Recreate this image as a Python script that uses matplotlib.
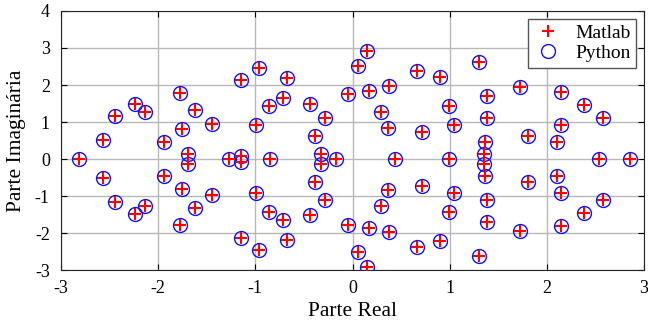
import matplotlib
matplotlib.use("Agg")
import matplotlib.pyplot as plt

# Poles (Matlab and Python results coincide)
matlab_real = [
    -2.81, -1.27, -0.85, -0.17, 0.44, 0.99, 2.54, 2.85,
    -2.57, -2.44, -2.24, -2.13, -1.94, -1.77, -1.75, -1.69, -1.62, -1.45, -1.15,
    -1.15, -0.96, -0.99, -0.86, -0.67, -0.71, -0.44, -0.28, -0.39, -0.32, -0.05,
    0.06, 0.15, 0.17, 0.38, 0.29, 0.36, 0.66, 0.72, 0.90, 0.99, 1.04, 1.30,
    1.38, 1.38, 1.36, 1.35, 1.72, 1.81, 2.14, 2.14, 2.10, 2.38, 2.58,
    -2.57, -2.44, -2.24, -2.13, -1.94, -1.77, -1.75, -1.69, -1.62, -1.45, -1.15,
    -1.15, -0.96, -0.99, -0.86, -0.67, -0.71, -0.44, -0.28, -0.39, -0.32, -0.05,
    0.06, 0.15, 0.17, 0.38, 0.29, 0.36, 0.66, 0.72, 0.90, 0.99, 1.04, 1.30,
    1.38, 1.38, 1.36, 1.35, 1.72, 1.81, 2.14, 2.14, 2.10, 2.38, 2.58,
]
matlab_imag = [
    0, 0, 0, 0, 0, 0, 0, 0,
    0.51, 1.15, 1.48, 1.27, 0.45, 1.79, 0.82, 0.14, 1.33, 0.96, 0.08,
    2.14, 2.45, 0.91, 1.42, 2.18, 1.66, 1.50, 1.10, 0.61, 0.14, 1.77,
    2.52, 2.93, 1.85, 1.98, 1.28, 0.83, 2.37, 0.74, 2.21, 1.42, 0.92, 2.63,
    1.71, 1.12, 0.45, 0.14, 1.94, 0.63, 1.80, 0.92, 0.45, 1.47, 1.12,
    -0.51, -1.15, -1.48, -1.27, -0.45, -1.79, -0.82, -0.14, -1.33, -0.96, -0.08,
    -2.14, -2.45, -0.91, -1.42, -2.18, -1.66, -1.50, -1.10, -0.61, -0.14, -1.77,
    -2.52, -2.93, -1.85, -1.98, -1.28, -0.83, -2.37, -0.74, -2.21, -1.42, -0.92, -2.63,
    -1.71, -1.12, -0.45, -0.14, -1.94, -0.63, -1.80, -0.92, -0.45, -1.47, -1.12,
]
python_real = list(matlab_real)
python_imag = list(matlab_imag)

x_ticks = [-3, -2, -1, 0, 1, 2, 3]
y_ticks = [-3, -2, -1, 0, 1, 2, 3, 4]

plt.rcParams['font.family'] = ['Liberation Serif', 'DejaVu Serif']
plt.rcParams['axes.unicode_minus'] = False

fig = plt.figure(figsize=(6.48, 3.33), dpi=100)
ax = fig.add_axes([0.094, 0.189, 0.900, 0.778])

hp, = ax.plot(python_real, python_imag, linestyle='none', marker='o', markersize=10,
              markerfacecolor='none', markeredgecolor='#1010ff', markeredgewidth=1.0,
              label='Python', zorder=3)
hm, = ax.plot(matlab_real, matlab_imag, linestyle='none', marker='+', markersize=9,
              markeredgecolor='#ff0000', markeredgewidth=1.5, label='Matlab', zorder=4)

ax.set_xlim(-3, 3)
ax.set_ylim(-3, 4)
ax.set_xticks(x_ticks)
ax.set_yticks(y_ticks)
ax.set_xticklabels([str(t) for t in x_ticks])
ax.set_yticklabels([str(t) for t in y_ticks])
ax.grid(True, color='#b8b8b8', linewidth=1.0)
ax.set_axisbelow(True)
ax.tick_params(direction='in', top=True, right=True, labelsize=13, length=4, width=0.8)
ax.tick_params(axis='x', pad=7)
ax.tick_params(axis='y', pad=8)
for s in ax.spines.values():
    s.set_linewidth(0.8)
    s.set_color('#262626')

ax.set_xlabel('Parte Real', fontsize=15.5, labelpad=4)
ax.set_ylabel('Parte Imaginária', fontsize=15.5, labelpad=6)

leg = ax.legend(handles=[hm, hp], loc='upper right', fontsize=14, fancybox=False,
                framealpha=1, edgecolor='#555555', borderpad=0.3, handletextpad=0.7,
                labelspacing=0.1, handlelength=1.4, borderaxespad=0.4)
leg.get_frame().set_linewidth(1.0)

fig.savefig('out.png', dpi=100)
